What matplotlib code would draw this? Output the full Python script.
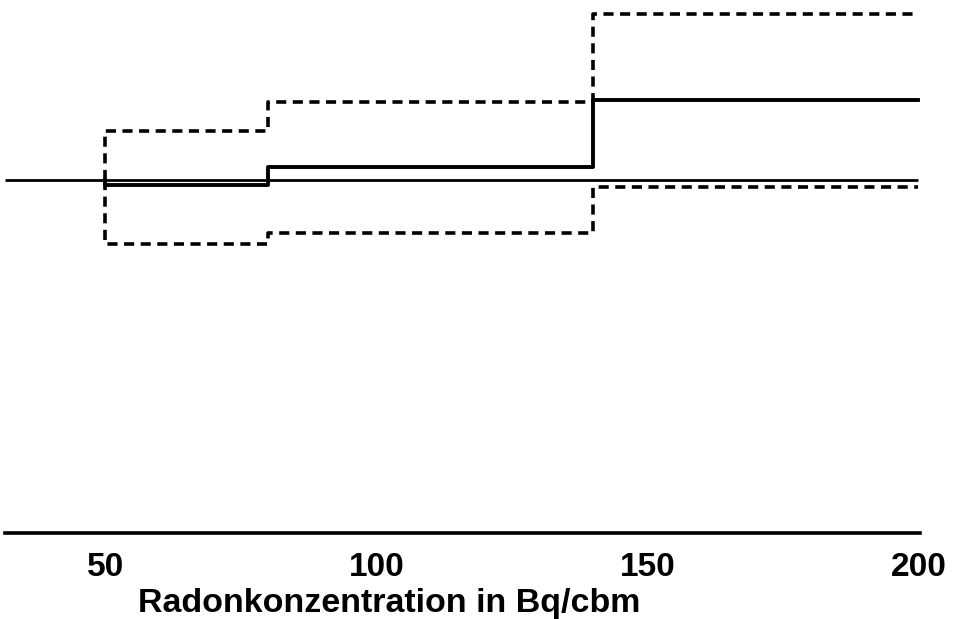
import numpy as np
import matplotlib.pyplot as plt

# step edges (Bq/cbm) and relative risk per class
edges = [50, 80, 140, 200]
rr = [0.986, 1.037, 1.227]
rr_upper = [1.14, 1.22, 1.47]
rr_lower = [0.82, 0.85, 0.98]
ref_level = 1.0
xticks = [50, 100, 150, 200]

plt.rcParams['font.family'] = ['Liberation Sans', 'DejaVu Sans']

fig = plt.figure(figsize=(9.57, 6.19), dpi=100)
ax = fig.add_axes([5 / 957, 86 / 619, 915 / 957, 533 / 619])

x0 = 31.5
xs = [edges[0]] + edges


def steps(vals):
    return [ref_level] + vals + [vals[-1]]


ax.hlines(ref_level, x0, edges[-1], color='black', lw=2.0)
ax.step(xs, steps(rr), where='post', color='black', lw=2.8)
ax.step(xs, steps(rr_upper), where='post', color='black', lw=2.6, ls=(0, (2.8, 1.8)))
ax.step(xs, steps(rr_lower), where='post', color='black', lw=2.6, ls=(0, (2.8, 1.8)))

ax.set_xlim(x0, 200.3)
ax.set_ylim(0, 533 / 353)
for s in ['top', 'right', 'left']:
    ax.spines[s].set_visible(False)
ax.spines['bottom'].set_linewidth(2.6)
ax.set_yticks([])
ax.set_xticks(xticks)
ax.set_xticklabels([str(t) for t in xticks], fontsize=24, fontweight='bold')
ax.tick_params(axis='x', length=0, pad=14)
ax.set_xlabel('Radonkonzentration in Bq/cbm', fontsize=24.5, fontweight='bold',
              labelpad=3, x=0.42)

fig.savefig('out.png', dpi=100)
